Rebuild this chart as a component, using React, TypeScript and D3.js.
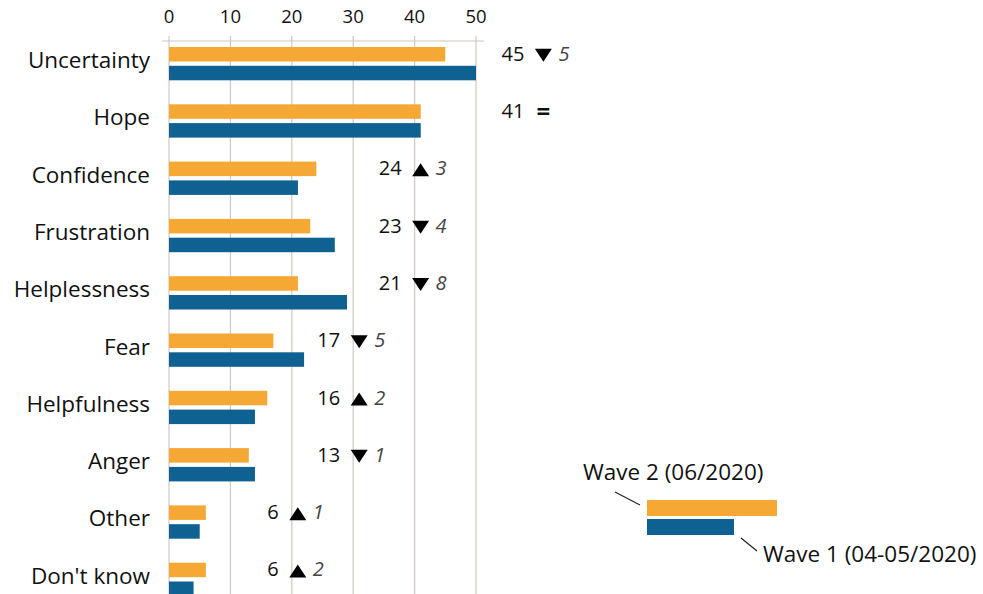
import React from "react";
import * as d3 from "d3";

const categories = ["Uncertainty", "Hope", "Confidence", "Frustration", "Helplessness", "Fear", "Helpfulness", "Anger", "Other", "Don't know"];
const wave2 = [45, 41, 24, 23, 21, 17, 16, 13, 6, 6];
const wave1 = [50, 41, 21, 27, 29, 22, 14, 14, 5, 4];
const annotationColumn = [60, 60, 40, 40, 40, 30, 30, 30, 20, 20];
const ticks = [0, 10, 20, 30, 40, 50];
const seriesNames = ["Wave 2 (06/2020)", "Wave 1 (04-05/2020)"];

const W = 983;
const H = 594;
const ORANGE = "#F5A833";
const BLUE = "#0E6190";
const GRID = "#D2C6BE";
const FONT = "'Open Sans', sans-serif";

export default function App() {
  const x = d3.scaleLinear().domain([0, 50]).range([169, 476]);
  const y = d3.scaleBand<string>().domain(categories).range([47, 47 + 57.3 * categories.length]).paddingInner(0);
  const barH = 14.5;
  const gap = 4.3;

  const tri = (cx: number, cy: number, up: boolean) => {
    const p = d3.path();
    const w = 8.5, h = 6.5;
    if (up) {
      p.moveTo(cx - w, cy + h);
      p.lineTo(cx + w, cy + h);
      p.lineTo(cx, cy - h);
    } else {
      p.moveTo(cx - w, cy - h);
      p.lineTo(cx + w, cy - h);
      p.lineTo(cx, cy + h);
    }
    p.closePath();
    return p.toString();
  };

  return (
    <svg width={W} height={H} style={{ position: "fixed", left: 0, top: 0, background: "#fff" }} fontFamily={FONT}>
      {ticks.map((t) => (
        <line key={"g" + t} x1={x(t)} x2={x(t)} y1={36} y2={H} stroke={GRID} strokeWidth={1.2} />
      ))}
      <line x1={162} x2={484} y1={41} y2={41} stroke={GRID} strokeWidth={1.2} />
      {ticks.map((t) => (
        <text key={"t" + t} x={x(t)} y={22.5} textAnchor="middle" fontSize={18.5} fill="#111">
          {t}
        </text>
      ))}
      {categories.map((c, i) => {
        const y0 = y(c)!;
        const diff = wave2[i] - wave1[i];
        const ax = x(annotationColumn[i]) + 6;
        const cy = y0 + barH / 2;
        return (
          <g key={c}>
            <rect x={x(0)} y={y0} width={x(wave2[i]) - x(0)} height={barH} fill={ORANGE} />
            <rect x={x(0)} y={y0 + barH + gap} width={x(wave1[i]) - x(0)} height={barH} fill={BLUE} />
            <text x={150} y={y0 + 21} textAnchor="end" fontSize={22.5} fill="#111">
              {c}
            </text>
            <text x={ax - 19} y={cy + 6.5} textAnchor="end" fontSize={20} fill="#111">
              {wave2[i]}
            </text>
            {diff === 0 ? (
              <text x={ax} y={cy + 8} textAnchor="middle" fontSize={24} fill="#111" fontWeight="bold">
                =
              </text>
            ) : (
              <>
                <path d={tri(ax, cy + 1, diff > 0)} fill="#000" />
                <text x={ax + 15} y={cy + 6.5} fontSize={20} fontStyle="italic" fill="#444">
                  {Math.abs(diff)}
                </text>
              </>
            )}
          </g>
        );
      })}
      <rect x={647} y={500} width={130} height={16} fill={ORANGE} />
      <rect x={647} y={519} width={87} height={16} fill={BLUE} />
      <text x={583} y={480} fontSize={22.5} fill="#111">{seriesNames[0]}</text>
      <line x1={615} y1={492} x2={640} y2={505} stroke="#222" strokeWidth={1.2} />
      <text x={763} y={562} fontSize={22.5} fill="#111">{seriesNames[1]}</text>
      <line x1={741} y1={538} x2={757} y2={551} stroke="#222" strokeWidth={1.2} />
    </svg>
  );
}
